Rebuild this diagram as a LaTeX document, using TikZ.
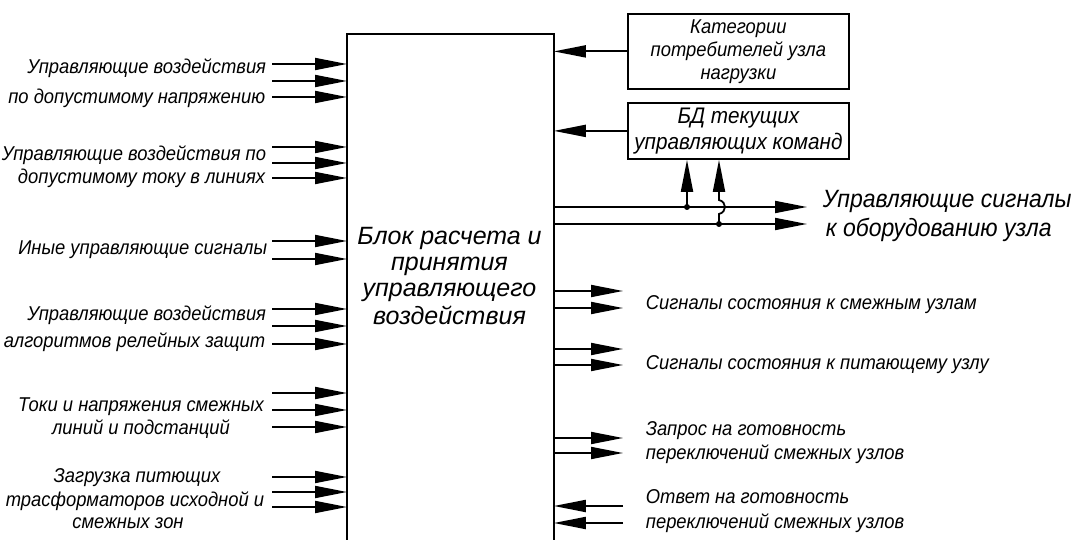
\documentclass[tikz,border=0pt]{standalone}
\usepackage{fontspec}
\setmainfont{Liberation Sans}
\newfontfamily\gost{Liberation Sans}[FakeStretch=0.92]
\usetikzlibrary{arrows.meta}
\begin{document}
\begin{tikzpicture}[x=1pt,y=-1pt,line width=1.8pt,
  arr/.style={-{Triangle[length=32pt,width=12pt]}},
  lbl/.style={font=\gost\itshape\fontsize{20}{23}\selectfont,inner sep=0pt},
  big/.style={font=\gost\itshape\fontsize{25}{28}\selectfont,inner sep=0pt},
  blk/.style={font=\itshape\fontsize{25}{28}\selectfont,inner sep=0pt},
  mid/.style={font=\gost\itshape\fontsize{22.5}{26}\selectfont,inner sep=0pt},
  dot/.style={circle,fill,inner sep=0pt,minimum size=6pt}]
\useasboundingbox (0,0) rectangle (1080,540);

% main block (open at the bottom)
\node[minimum width=205pt,minimum height=507pt,inner sep=0pt,anchor=north west] (main) at (347,34) {};
\draw (main.south west) |- (main.north east) -- (main.south east);
\node[blk,anchor=base] (mt1) at (449.5,245) {Блок расчета и};
\node[blk,anchor=base] (mt2) at (449.5,271) {принятия};
\node[blk,anchor=base] (mt3) at (449.5,297) {управляющего};
\node[blk,anchor=base] (mt4) at (449.5,324) {воздействия};

% top boxes
\node[draw,lbl,minimum width=221pt,minimum height=75pt,anchor=north west,align=center] (cat) at (627,13) {Категории\\потребителей узла\\нагрузки};
\node[draw,mid,minimum width=221pt,minimum height=56pt,anchor=north west,align=center] (db) at (627,102) {БД текущих\\управляющих команд};
\draw[arr] (cat.west) -- (main.east |- cat.west);
\draw[arr] (db.west) -- (main.east |- db.west);

% left inputs
\foreach \y [count=\i] in {64,81,97,147,163,178,241,259,309,326,344,393,410,427,477,492,507}{
  \coordinate (in\i) at (272,\y);
  \draw[arr] (in\i) -- (main.west |- in\i);
}
\node[lbl,anchor=base east] (g1a) at (267,74) {Управляющие воздействия};
\node[lbl,anchor=base east] (g1b) at (266,104) {по допустимому напряжению};
\node[lbl,anchor=base east] (g2a) at (267,161) {Управляющие воздействия по};
\node[lbl,anchor=base east] (g2b) at (266,184) {допустимому току в линиях};
\node[lbl,anchor=base east] (g3a) at (268,255) {Иные управляющие сигналы};
\node[lbl,anchor=base east] (g4a) at (267,321) {Управляющие воздействия};
\node[lbl,anchor=base east] (g4b) at (266,348) {алгоритмов релейных защит};
\node[lbl,anchor=base] (g5a) at (141,411) {Токи и напряжения смежных};
\node[lbl,anchor=base] (g5b) at (141,434) {линий и подстанций};
\node[lbl,anchor=base] (g6a) at (137,482) {Загрузка питющих};
\node[lbl,anchor=base] (g6b) at (135,506) {трасформаторов исходной и};
\node[lbl,anchor=base] (g6c) at (128,528) {смежных зон};

% control outputs with junctions
\coordinate (c1) at (807,207);
\coordinate (c2) at (807,224);
\draw[arr] (main.east |- c1) -- (c1);
\draw[arr] (main.east |- c2) -- (c2);
\node[dot] (d1) at (687,207) {};
\node[dot] (d2) at (719,224) {};
\draw[arr] (d1.center) -- (db.south -| d1);
\draw[arr] (d2.center) -- (719,214) .. controls (727,212) and (727,202) .. (719,200) -- (db.south -| d2);
\node[big,anchor=base west] (ctl1) at (822,208) {Управляющие сигналы};
\node[big,anchor=base west] (ctl2) at (825,237) {к оборудованию узла};

% right side outputs
\foreach \y [count=\i] in {291,308,349,365,438,453}{
  \coordinate (out\i) at (623,\y);
  \draw[arr] (main.east |- out\i) -- (out\i);
}
\foreach \y [count=\i] in {506,523}{
  \coordinate (ans\i) at (623,\y);
  \draw[arr] (ans\i) -- (main.east |- ans\i);
}
\node[lbl,anchor=base west] (r1) at (645,310) {Сигналы состояния к смежным узлам};
\node[lbl,anchor=base west] (r2) at (645,370) {Сигналы состояния к питающему узлу};
\node[lbl,anchor=base west] (r3a) at (645,435) {Запрос на готовность};
\node[lbl,anchor=base west] (r3b) at (645,459) {переключений смежных узлов};
\node[lbl,anchor=base west] (r4a) at (645,503) {Ответ на готовность};
\node[lbl,anchor=base west] (r4b) at (645,528) {переключений смежных узлов};
\end{tikzpicture}
\end{document}
